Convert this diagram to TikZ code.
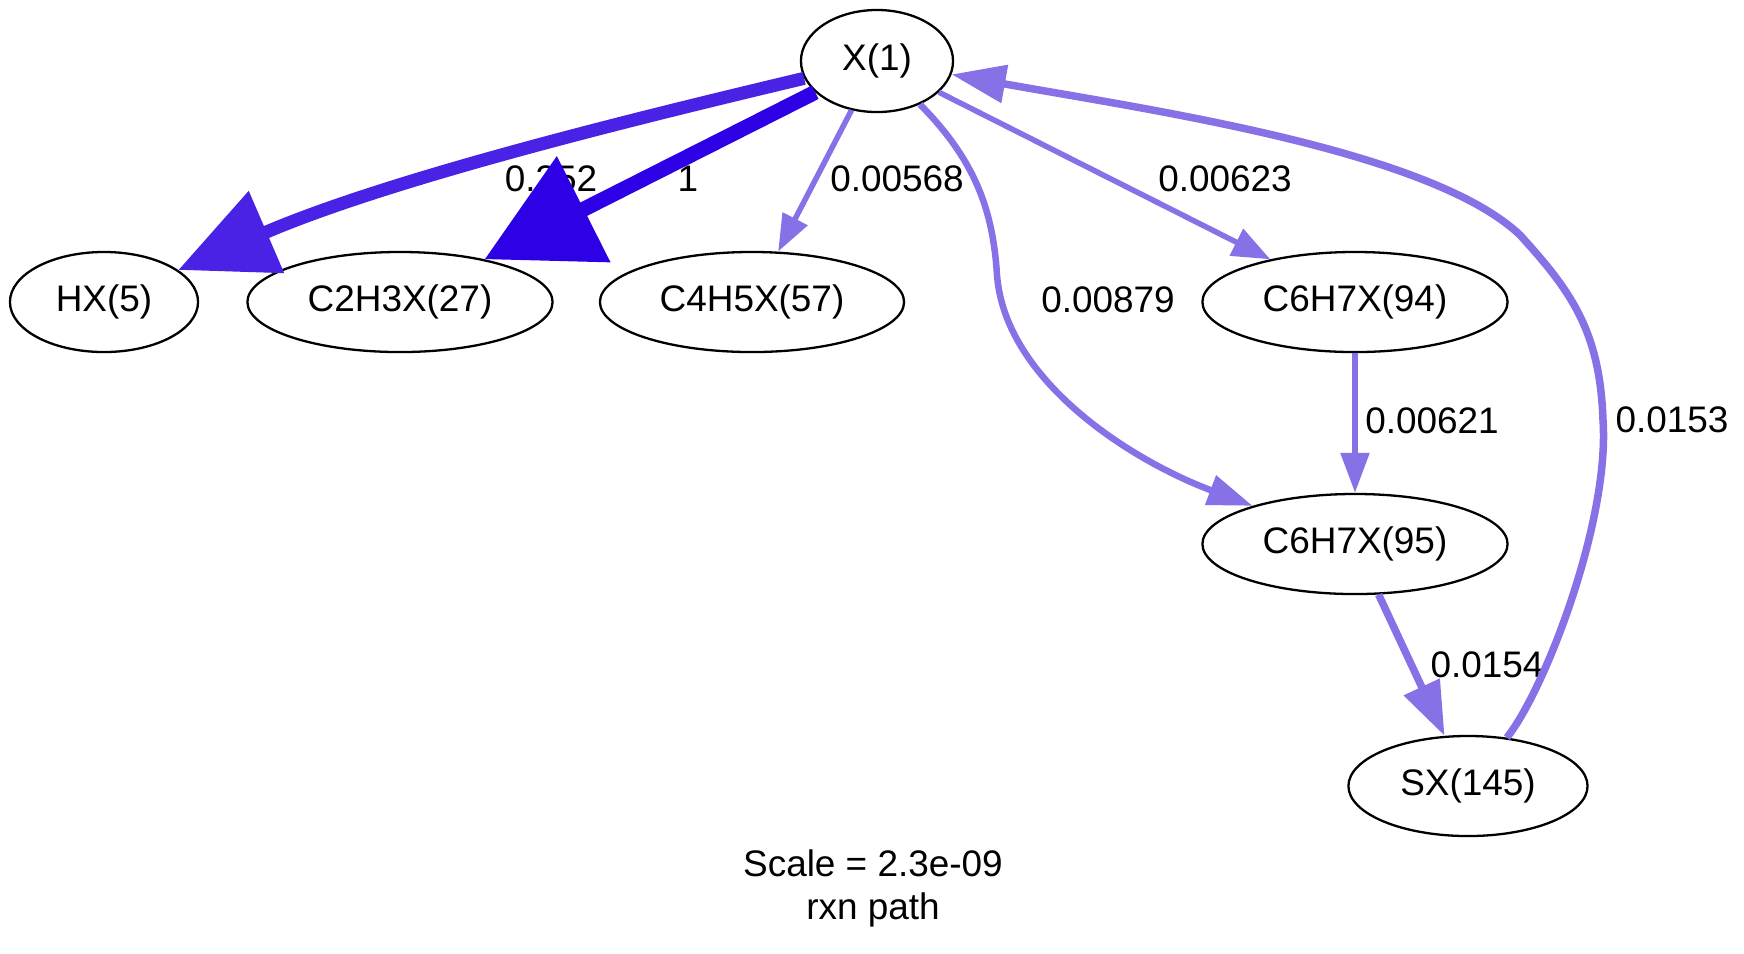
\documentclass[tikz,border=0pt]{standalone}
\usepackage{fontspec}
\setmainfont{Liberation Sans}
\usepackage{tikz}
\usetikzlibrary{shapes, arrows.meta, positioning}
\definecolor{fluxstrong}{RGB}{46,0,230}
\definecolor{fluxmid}{RGB}{73,34,230}
\definecolor{fluxweak}{RGB}{136,113,230}
\tikzstyle{species} = [ellipse, draw, line width=0.023cm, inner sep=0pt, minimum height=1cm, font=\fontsize{10.5}{12.2}\selectfont]
\tikzstyle{rate} = [inner sep=0pt, font=\fontsize{10.5}{12.2}\selectfont]
\tikzstyle{line} = [draw, fluxweak]

\begin{document}
\begin{tikzpicture}[x=0.01cm, y=-0.01cm]
			\useasboundingbox (0,0) rectangle (1744,953);

			\node [species, minimum width=1.52cm, minimum height=1.02cm] (x1) at (877,61) {X(1)};
			\node [species, minimum width=1.88cm] (hx5) at (104,302) {HX(5)};
			\node [species, minimum width=3.05cm] (c2h3x27) at (400,302) {C2H3X(27)};
			\node [species, minimum width=3.04cm] (c4h5x57) at (752,302) {C4H5X(57)};
			\node [species, minimum width=3.05cm] (c6h7x94) at (1355,302) {C6H7X(94)};
			\node [species, minimum width=3.05cm] (c6h7x95) at (1355,544) {C6H7X(95)};
			\node [species, minimum width=2.39cm] (sx145) at (1468,786) {SX(145)};

			\node [rate] (r5) at (551,179) {0.352};
			\node [rate] (r27) at (688,179) {1};
			\node [rate] (r57) at (897,179) {0.00568};
			\node [rate] (r94) at (1225,179) {0.00623};
			\node [rate] (r95) at (1108,300) {0.00879};
			\node [rate] (r9495) at (1432,421) {0.00621};
			\node [rate] (r145) at (1487,665) {0.0154};
			\node [rate] (r1) at (1672,420) {0.0153};
			\node [rate, align=center] (title) at (873,888) {Scale = 2.3e-09\\rxn path};

			\path [line, fluxmid, line width=0.13cm, -{Triangle[length=0.96cm, width=0.86cm]}] (x1) .. controls (650,115) and (394,177) .. (hx5);
			\path [line, fluxstrong, line width=0.15cm, -{Triangle[length=1.11cm, width=1.15cm]}] (x1) -- (c2h3x27);
			\path [line, line width=0.055cm, -{Triangle[length=0.37cm, width=0.27cm]}] (x1) -- (c4h5x57);
			\path [line, line width=0.055cm, -{Triangle[length=0.38cm, width=0.29cm]}] (x1) -- (c6h7x94);
			\path [line, line width=0.065cm, -{Triangle[length=0.45cm, width=0.30cm]}] (x1) .. controls (975,160) and (993,210) .. (997,275) .. controls (1005,380) and (1130,460) .. (c6h7x95);
			\path [line, line width=0.055cm, -{Triangle[length=0.40cm, width=0.28cm]}] (c6h7x94) -- (c6h7x95);
			\path [line, line width=0.075cm, -{Triangle[length=0.54cm, width=0.38cm]}] (c6h7x95) -- (sx145);
			\path [line, line width=0.075cm, -{Triangle[length=0.54cm, width=0.37cm]}] (sx145) .. controls (1545,690) and (1610,520) .. (1603,420) .. controls (1600,330) and (1570,290) .. (1520,235) .. controls (1430,150) and (1150,110) .. (x1);
		\end{tikzpicture}
\end{document}
